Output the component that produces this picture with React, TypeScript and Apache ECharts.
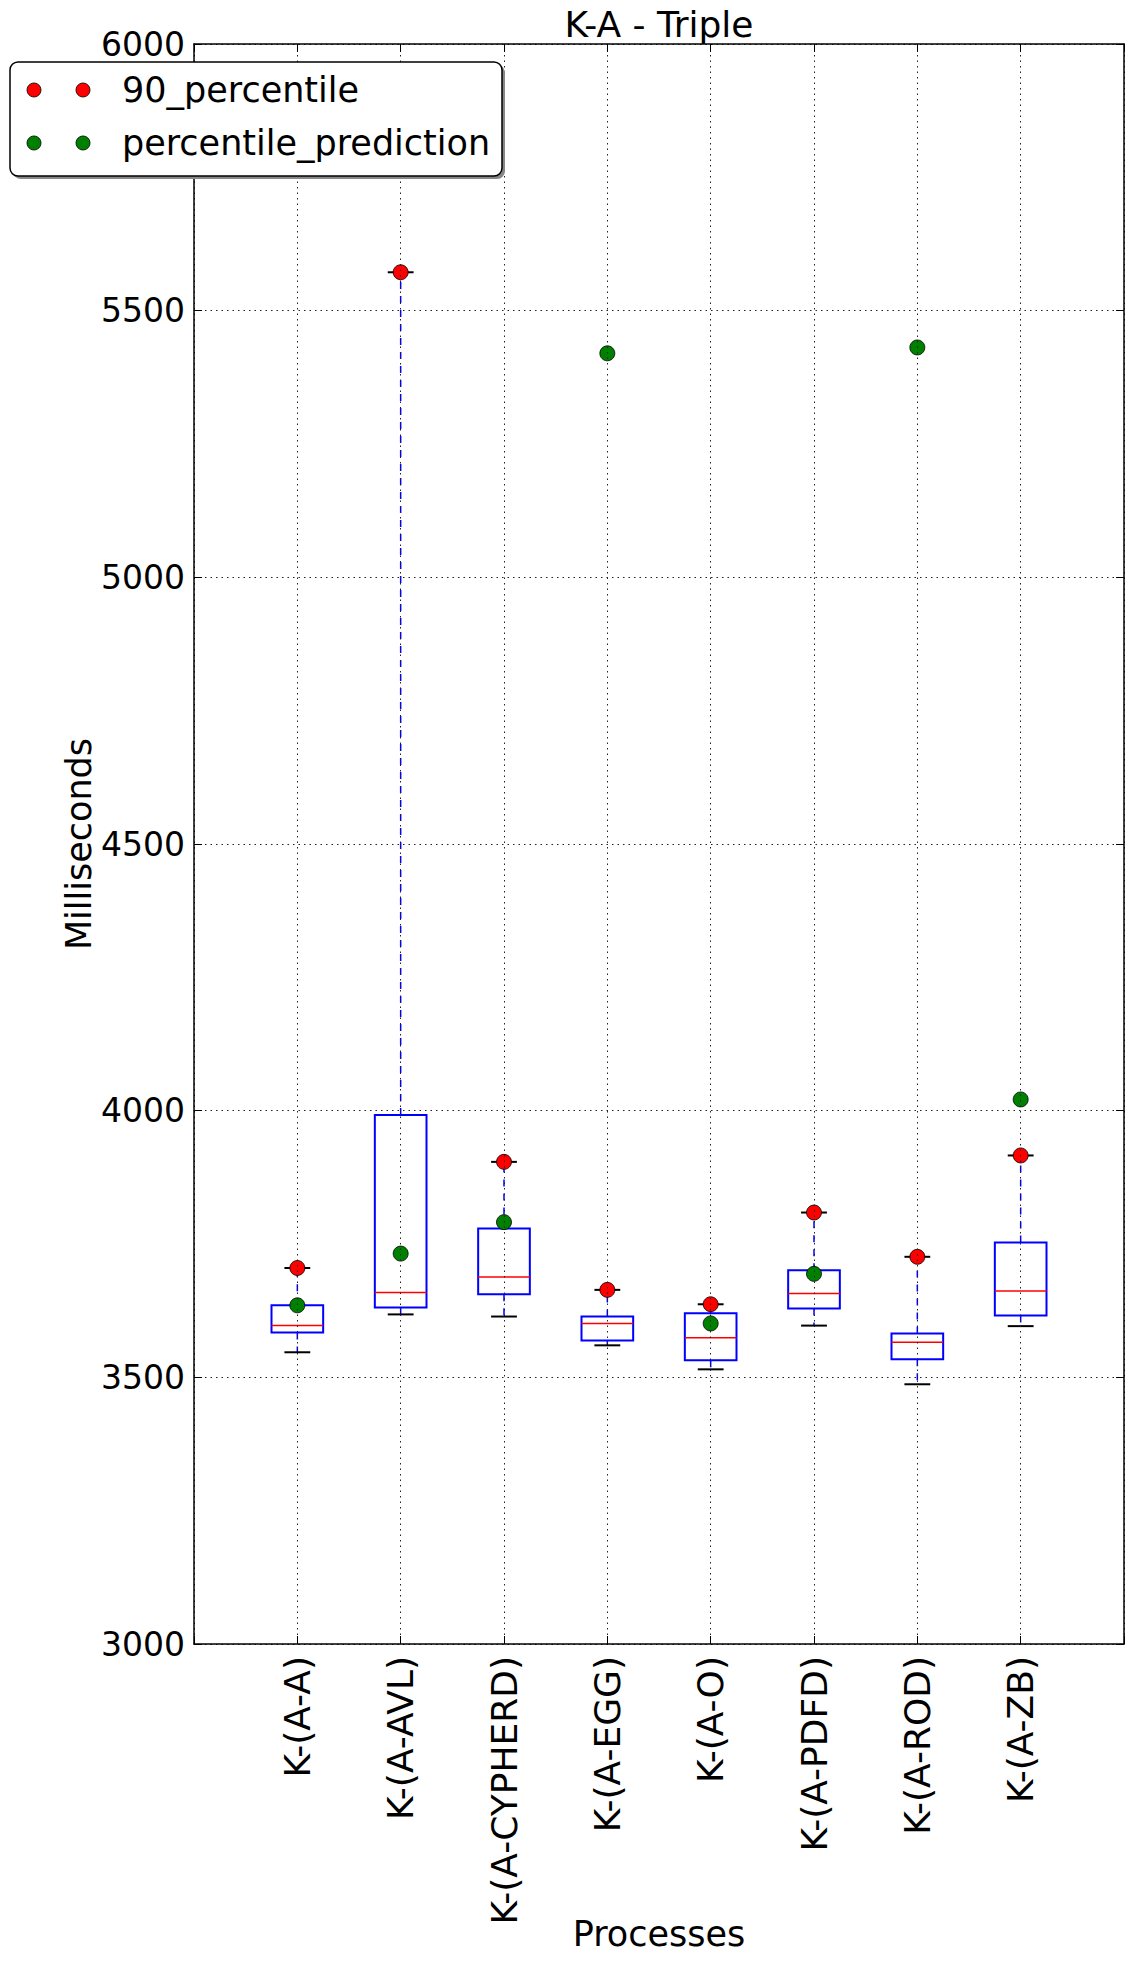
import React, { useEffect, useRef } from "react";
import * as echarts from "echarts";

const categories = ["K-(A-A)", "K-(A-AVL)", "K-(A-CYPHERD)", "K-(A-EGG)", "K-(A-O)", "K-(A-PDFD)", "K-(A-ROD)", "K-(A-ZB)"];
const whiskerLow = [3547, 3618, 3614, 3560, 3515, 3597, 3487, 3596];
const q1 = [3584, 3631, 3656, 3569, 3532, 3629, 3534, 3616];
const median = [3597, 3659, 3688, 3601, 3574, 3657, 3566, 3662];
const q3 = [3635, 3992, 3779, 3614, 3620, 3701, 3582, 3753];
const whiskerHigh = [3705, 5572, 3904, 3664, 3637, 3809, 3726, 3916];
const percentile90 = [3705, 5572, 3904, 3664, 3637, 3809, 3726, 3916];
const percentilePrediction = [3635, 3732, 3791, 5420, 3601, 3694, 5431, 4021];
const yTicks = { min: 3000, max: 6000, interval: 500 };

const FONT = "DejaVu Sans";
const FS = 35;

export default function App() {
  const ref = useRef<HTMLDivElement>(null);
  useEffect(() => {
    document.body.style.margin = "0";
    if (!ref.current) return;
    const chart = echarts.init(ref.current, null, { renderer: "svg" });
    const boxData = categories.map((_, i) => [i + 1, whiskerLow[i], q1[i], median[i], q3[i], whiskerHigh[i]]);
    const gridLine = { show: true, lineStyle: { color: "#222", width: 1, type: [1.5, 4] } };
    const option: any = {
      animation: false,
      backgroundColor: "#fff",
      textStyle: { fontFamily: FONT },
      grid: { left: 194, right: 9, top: 44, bottom: 320, containLabel: false, outerBoundsMode: "none" },
      xAxis: [
        {
          type: "value", min: 0, max: 9, interval: 1, position: "bottom", z: 5,
          name: "Processes", nameLocation: "middle", nameGap: 272, nameMoveOverlap: false,
          nameTextStyle: { fontSize: FS, fontFamily: FONT, color: "#000" },
          axisLine: { show: true, onZero: false, lineStyle: { color: "#000", width: 1.5 } },
          axisTick: { show: true, inside: true, length: 8, lineStyle: { color: "#000", width: 1 } },
          axisLabel: {
            rotate: 90, margin: 12, fontSize: 36, fontFamily: FONT, color: "#000",
            formatter: (v: number) => categories[v - 1] ?? "",
          },
          splitLine: gridLine,
        },
        {
          type: "value", min: 0, max: 9, interval: 1, position: "top", z: 5,
          axisLine: { show: true, onZero: false, lineStyle: { color: "#000", width: 1.5 } },
          axisTick: { show: true, inside: true, length: 8, lineStyle: { color: "#000", width: 1 } },
          axisLabel: { show: false },
          splitLine: { show: false },
        },
      ],
      yAxis: [
        {
          type: "value", min: yTicks.min, max: yTicks.max, interval: yTicks.interval, position: "left", z: 5,
          name: "Milliseconds", nameLocation: "middle", nameGap: 98, nameMoveOverlap: false,
          nameTextStyle: { fontSize: FS, fontFamily: FONT, color: "#000" },
          axisLine: { show: true, onZero: false, lineStyle: { color: "#000", width: 1.5 } },
          axisTick: { show: true, inside: true, length: 8, lineStyle: { color: "#000", width: 1 } },
          axisLabel: { margin: 9, fontSize: 33, fontFamily: FONT, color: "#000", formatter: (v: number) => String(v) },
          splitLine: gridLine,
        },
        {
          type: "value", min: yTicks.min, max: yTicks.max, interval: yTicks.interval, position: "right", z: 5,
          axisLine: { show: true, onZero: false, lineStyle: { color: "#000", width: 1.5 } },
          axisTick: { show: true, inside: true, length: 8, lineStyle: { color: "#000", width: 1 } },
          axisLabel: { show: false },
          splitLine: { show: false },
        },
      ],
      series: [
        {
          type: "custom",
          name: "boxes",
          xAxisIndex: 0,
          yAxisIndex: 0,
          z: 2,
          data: boxData,
          renderItem: (params: any, api: any) => {
            const x = api.value(0);
            const lo = api.coord([x, api.value(1)]);
            const b1 = api.coord([x, api.value(2)]);
            const md = api.coord([x, api.value(3)]);
            const b3 = api.coord([x, api.value(4)]);
            const hi = api.coord([x, api.value(5)]);
            const halfBox = api.size([0.5, 0])[0] / 2;
            const halfCap = api.size([0.25, 0])[0] / 2;
            const cx = lo[0];
            const dash = { stroke: "#0000ff", lineWidth: 1.5, lineDash: [7, 7], fill: null };
            return {
              type: "group",
              children: [
                { type: "line", shape: { x1: cx, y1: b3[1], x2: cx, y2: hi[1] }, style: dash },
                { type: "line", shape: { x1: cx, y1: b1[1], x2: cx, y2: lo[1] }, style: dash },
                { type: "line", shape: { x1: cx - halfCap, y1: hi[1], x2: cx + halfCap, y2: hi[1] }, style: { stroke: "#000", lineWidth: 2 } },
                { type: "line", shape: { x1: cx - halfCap, y1: lo[1], x2: cx + halfCap, y2: lo[1] }, style: { stroke: "#000", lineWidth: 2 } },
                {
                  type: "rect",
                  shape: { x: cx - halfBox, y: b3[1], width: halfBox * 2, height: b1[1] - b3[1] },
                  style: { stroke: "#0000ff", lineWidth: 2, fill: "none" },
                },
                { type: "line", shape: { x1: cx - halfBox, y1: md[1], x2: cx + halfBox, y2: md[1] }, style: { stroke: "#ff0000", lineWidth: 1.5 } },
              ],
            };
          },
        },
        {
          type: "scatter",
          name: "90_percentile",
          z: 3,
          symbol: "circle",
          symbolSize: 15,
          itemStyle: { color: "#ff0000", borderColor: "#000", borderWidth: 0.8, opacity: 1 },
          data: percentile90.map((v, i) => [i + 1, v]),
        },
        {
          type: "scatter",
          name: "percentile_prediction",
          z: 4,
          symbol: "circle",
          symbolSize: 15,
          itemStyle: { color: "#008000", borderColor: "#000", borderWidth: 0.8, opacity: 1 },
          data: percentilePrediction.map((v, i) => [i + 1, v]),
        },
      ],
      graphic: [
        {
          type: "text", x: 659, y: 24, z: 100,
          style: { text: "K-A - Triple", fontSize: 36, fontFamily: FONT, fill: "#000", align: "center", verticalAlign: "middle" },
        },
        {
          type: "group", z: 100,
          children: [
            { type: "rect", shape: { x: 13, y: 65, width: 492, height: 114, r: 8 }, style: { fill: "#888", stroke: "none" }, z: 100 },
            { type: "rect", shape: { x: 10, y: 62, width: 492, height: 114, r: 8 }, style: { fill: "#fff", stroke: "#000", lineWidth: 1.5 }, z: 101 },
            { type: "circle", shape: { cx: 34, cy: 90, r: 7 }, style: { fill: "#ff0000", stroke: "#000", lineWidth: 0.8 }, z: 102 },
            { type: "circle", shape: { cx: 83, cy: 90, r: 7 }, style: { fill: "#ff0000", stroke: "#000", lineWidth: 0.8 }, z: 102 },
            { type: "circle", shape: { cx: 34, cy: 143, r: 7 }, style: { fill: "#008000", stroke: "#000", lineWidth: 0.8 }, z: 102 },
            { type: "circle", shape: { cx: 83, cy: 143, r: 7 }, style: { fill: "#008000", stroke: "#000", lineWidth: 0.8 }, z: 102 },
            { type: "text", x: 122, y: 90, z: 102, style: { text: "90_percentile", fontSize: FS, fontFamily: FONT, fill: "#000", verticalAlign: "middle" } },
            { type: "text", x: 122, y: 143, z: 102, style: { text: "percentile_prediction", fontSize: FS, fontFamily: FONT, fill: "#000", verticalAlign: "middle" } },
          ],
        },
      ],
    };
    chart.setOption(option);
    return () => chart.dispose();
  }, []);
  return <div ref={ref} style={{ width: 1133, height: 1964 }} />;
}
